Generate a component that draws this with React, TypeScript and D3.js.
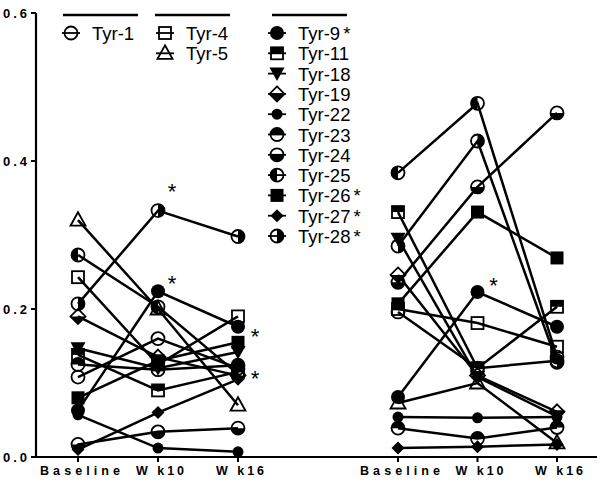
import React from 'react';
import * as d3 from 'd3';

// time points and their printed labels
const times = ['Baseline', 'Wk10', 'Wk16'];
const timeLabels = ['Baseline', 'W k10', 'W k16'];

const patients = [
  'Tyr-1', 'Tyr-4', 'Tyr-5', 'Tyr-9', 'Tyr-11', 'Tyr-18', 'Tyr-19',
  'Tyr-22', 'Tyr-23', 'Tyr-24', 'Tyr-25', 'Tyr-26', 'Tyr-27', 'Tyr-28',
];

// left panel values per patient: baseline, wk10, wk16
const leftValues = [
  [0.108, 0.16, 0.12],
  [0.243, 0.125, 0.19],
  [0.32, 0.2, 0.07],
  [0.063, 0.224, 0.176],
  [0.138, 0.09, 0.115],
  [0.147, 0.12, 0.142],
  [0.19, 0.135, 0.11],
  [0.057, 0.012, 0.007],
  [0.125, 0.118, 0.124],
  [0.017, 0.034, 0.039],
  [0.273, 0.203, 0.112],
  [0.08, 0.13, 0.155],
  [0.01, 0.06, 0.105],
  [0.207, 0.333, 0.298],
];

// right panel values per patient
const rightValues = [
  [0.196, 0.12, 0.13],
  [0.2, 0.181, 0.149],
  [0.073, 0.1, 0.019],
  [0.081, 0.223, 0.176],
  [0.331, 0.12, 0.203],
  [0.295, 0.108, 0.055],
  [0.246, 0.11, 0.061],
  [0.054, 0.053, 0.054],
  [0.039, 0.025, 0.04],
  [0.236, 0.365, 0.465],
  [0.384, 0.478, 0.135],
  [0.207, 0.331, 0.269],
  [0.012, 0.014, 0.017],
  [0.285, 0.427, 0.128],
];

const yTicks = [0, 0.2, 0.4, 0.6];

const legendGroups = [
  ['Tyr-1'],
  ['Tyr-4', 'Tyr-5'],
  ['Tyr-9', 'Tyr-11', 'Tyr-18', 'Tyr-19', 'Tyr-22', 'Tyr-23', 'Tyr-24', 'Tyr-25', 'Tyr-26', 'Tyr-27', 'Tyr-28'],
];
const starred = ['Tyr-9', 'Tyr-26', 'Tyr-27', 'Tyr-28'];

// significance marks on the plot: panel, patient, time point
const stars = [
  { panel: 'left', patient: 'Tyr-28', time: 'Wk10', dx: 14, dy: -12 },
  { panel: 'left', patient: 'Tyr-9', time: 'Wk10', dx: 14, dy: 0 },
  { panel: 'left', patient: 'Tyr-26', time: 'Wk16', dx: 17, dy: 2 },
  { panel: 'left', patient: 'Tyr-27', time: 'Wk16', dx: 17, dy: 7 },
  { panel: 'right', patient: 'Tyr-9', time: 'Wk10', dx: 16, dy: 1 },
];

const symbolOf: Record<string, string> = {
  'Tyr-1': 'circleOpen', 'Tyr-4': 'squareOpen', 'Tyr-5': 'triangleOpen',
  'Tyr-9': 'circleFilled', 'Tyr-11': 'squareTop', 'Tyr-18': 'triDown',
  'Tyr-19': 'diamondBottom', 'Tyr-22': 'circleSmall', 'Tyr-23': 'circleTop',
  'Tyr-24': 'circleBottom', 'Tyr-25': 'circleLeft', 'Tyr-26': 'squareFilled',
  'Tyr-27': 'diamondFilled', 'Tyr-28': 'circleRight',
};

const W = 600;
const H = 485;
const axisX = 36;
const axisY = 457;
const sans = "'Liberation Sans', Arial, sans-serif";

const y = d3.scaleLinear().domain([0, 0.6]).range([axisY, 13]);
const xLeft = d3.scalePoint<string>().domain(times).range([78, 238]);
const xRight = d3.scalePoint<string>().domain(times).range([398, 557]);

function Marker({ kind, x, y }: { kind: string; x: number; y: number }) {
  const sw = 1.8;
  const r = 6.5;
  let el: React.ReactNode = null;
  const half = (d: string) => (
    <>
      <path d={d} fill="#000" />
      <circle r={r} fill="none" stroke="#000" strokeWidth={sw} />
    </>
  );
  switch (kind) {
    case 'circleOpen':
      el = <circle r={r} fill="none" stroke="#000" strokeWidth={sw} />;
      break;
    case 'squareOpen':
      el = <rect x={-6} y={-6} width={12} height={12} fill="none" stroke="#000" strokeWidth={sw} />;
      break;
    case 'triangleOpen':
      el = <path d="M0,-8L7.5,5.5L-7.5,5.5Z" fill="none" stroke="#000" strokeWidth={sw} />;
      break;
    case 'circleFilled':
      el = <circle r={7} fill="#000" />;
      break;
    case 'squareTop':
      el = (
        <>
          <rect x={-6} y={-6} width={12} height={6} fill="#000" />
          <rect x={-6} y={-6} width={12} height={12} fill="none" stroke="#000" strokeWidth={sw} />
        </>
      );
      break;
    case 'triDown':
      el = <path d="M-7.5,-6L7.5,-6L0,7.5Z" fill="#000" />;
      break;
    case 'diamondBottom':
      el = (
        <>
          <path d="M-7.5,0L7.5,0L0,7.5Z" fill="#000" />
          <path d="M0,-7.5L7.5,0L0,7.5L-7.5,0Z" fill="none" stroke="#000" strokeWidth={sw} />
        </>
      );
      break;
    case 'circleSmall':
      el = <circle r={5.5} fill="#000" />;
      break;
    case 'circleTop':
      el = half(`M${-r},0A${r},${r} 0 0 1 ${r},0Z`);
      break;
    case 'circleBottom':
      el = half(`M${-r},0A${r},${r} 0 0 0 ${r},0Z`);
      break;
    case 'circleLeft':
      el = half(`M0,${-r}A${r},${r} 0 0 0 0,${r}Z`);
      break;
    case 'circleRight':
      el = half(`M0,${-r}A${r},${r} 0 0 1 0,${r}Z`);
      break;
    case 'squareFilled':
      el = <rect x={-6.5} y={-6.5} width={13} height={13} fill="#000" />;
      break;
    case 'diamondFilled':
      el = <path d="M0,-6.5L6.5,0L0,6.5L-6.5,0Z" fill="#000" />;
      break;
  }
  return <g transform={`translate(${x},${y})`}>{el}</g>;
}

function Panel({ values, x }: { values: number[][]; x: d3.ScalePoint<string> }) {
  const line = d3
    .line<number>()
    .x((_, i) => x(times[i]) as number)
    .y((d) => y(d));
  return (
    <g>
      {values.map((v, i) => (
        <path key={'l' + i} d={line(v) || ''} fill="none" stroke="#000" strokeWidth={2.5} />
      ))}
      {values.map((v, i) =>
        v.map((d, j) => (
          <Marker key={'m' + i + '-' + j} kind={symbolOf[patients[i]]} x={x(times[j]) as number} y={y(d)} />
        ))
      )}
      {times.map((t, j) => {
        const wide = j === 0 ? 80 : 48;
        return (
          <g key={'t' + j}>
            <line x1={x(t)} x2={x(t)} y1={axisY} y2={axisY + 5} stroke="#000" strokeWidth={2} />
            <text
              x={(x(t) as number) + 2 - wide / 2}
              y={axisY + 18}
              fontFamily={sans}
              fontWeight="bold"
              fontSize={12.5}
              textLength={wide}
              lengthAdjust="spacing"
            >
              {timeLabels[j]}
            </text>
          </g>
        );
      })}
    </g>
  );
}

function Legend() {
  const groupX = [71, 165, 277];
  const lineX = [[63, 138], [155, 230], [272, 347]];
  return (
    <g>
      {legendGroups.map((g, gi) => (
        <g key={gi}>
          <line x1={lineX[gi][0]} x2={lineX[gi][1]} y1={15} y2={15} stroke="#000" strokeWidth={2.5} />
          {g.map((name, k) => {
            const cy = 33 + k * 20.3;
            const cx = groupX[gi];
            return (
              <g key={name}>
                <line x1={cx - 9} x2={cx + 9} y1={cy} y2={cy} stroke="#000" strokeWidth={1.8} />
                <Marker kind={symbolOf[name]} x={cx} y={cy} />
                <text x={cx + 21} y={cy + 7} fontFamily={sans} fontSize={18.5}>
                  {name}
                  {starred.includes(name) ? <tspan dx={3}>*</tspan> : null}
                </text>
              </g>
            );
          })}
        </g>
      ))}
    </g>
  );
}

export default function App() {
  return (
    <svg
      width={W}
      height={H}
      style={{ position: 'absolute', left: 0, top: 0, background: '#fff' }}
    >
      <rect width={W} height={H} fill="#fff" />
      {/* axes */}
      <line x1={axisX} x2={axisX} y1={13} y2={axisY + 1} stroke="#000" strokeWidth={2.2} />
      <line x1={axisX - 1} x2={597} y1={axisY} y2={axisY} stroke="#000" strokeWidth={2.2} />
      {yTicks.map((t) => (
        <g key={t}>
          <line x1={axisX - 5} x2={axisX} y1={y(t)} y2={y(t)} stroke="#000" strokeWidth={2} />
          <text
            x={3}
            y={y(t) + 5}
            fontFamily={sans}
            fontWeight="bold"
            fontSize={13}
            textLength={24}
            lengthAdjust="spacing"
          >
            {t.toFixed(1)}
          </text>
        </g>
      ))}
      <Panel values={leftValues} x={xLeft} />
      <Panel values={rightValues} x={xRight} />
      {stars.map((s, i) => {
        const xs = s.panel === 'left' ? xLeft : xRight;
        const vals = s.panel === 'left' ? leftValues : rightValues;
        const pi = patients.indexOf(s.patient);
        const ti = times.indexOf(s.time);
        return (
          <text
            key={i}
            x={(xs(s.time) as number) + s.dx}
            y={y(vals[pi][ti]) + s.dy}
            textAnchor="middle"
            fontFamily={sans}
            fontSize={22}
          >
            *
          </text>
        );
      })}
      <Legend />
    </svg>
  );
}
